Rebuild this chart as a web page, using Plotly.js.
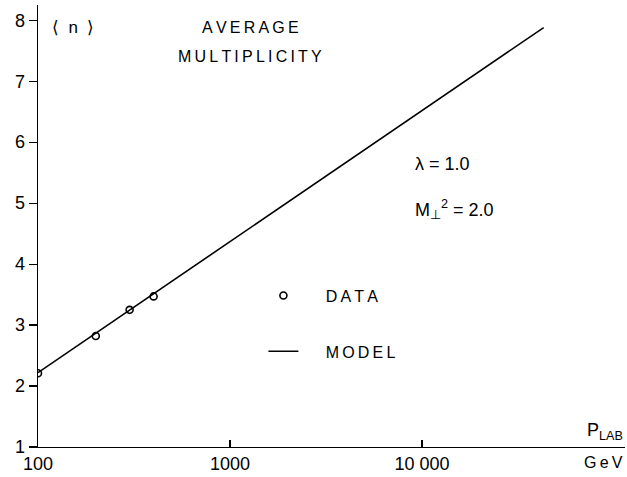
<!DOCTYPE html>
<html>
<head>
<meta charset="utf-8">
<script src="https://cdn.plot.ly/plotly-3.0.1.min.js"></script>
<style>html,body{margin:0;padding:0;background:#fff}#chart{width:627px;height:477px}</style>
</head>
<body>
<div id="chart"></div>
<script>
// Data
const dataP = [100, 200, 300, 400];
const dataN = [2.21, 2.82, 3.25, 3.47];
const modelP = [100, 1000, 10000, 43000];
const modelN = [2.22, 4.37, 6.52, 7.88];
const xTickVals = [100, 1000, 10000];
const xTickText = ['100', '1000', '10 000'];
const yTickVals = [1, 2, 3, 4, 5, 6, 7, 8];

const FONT = 'Liberation Sans, Arial, sans-serif';
const NB = '\u00a0';
const TS = '\u2009';
const spaced = s => s.split('').join(TS);

const traces = [
  {
    x: dataP, y: dataN, mode: 'markers', name: NB.repeat(5) + spaced('DATA'),
    marker: {symbol: 'circle-open', size: 7, color: '#000', line: {width: 1.6, color: '#000'}},
    legendgroup: 'a'
  },
  {
    x: modelP, y: modelN, mode: 'lines', name: NB.repeat(5) + spaced('MODEL'),
    line: {color: '#000', width: 1.6}, legendgroup: 'b'
  }
];

const layout = {
  width: 627, height: 477,
  margin: {l: 38, r: 2, t: 5, b: 30},
  paper_bgcolor: '#fff', plot_bgcolor: '#fff',
  font: {family: FONT, color: '#000', size: 16},
  showlegend: true,
  legend: {
    x: 0.384, y: 0.381, xanchor: 'left', yanchor: 'top',
    traceorder: 'grouped', tracegroupgap: 32,
    font: {size: 16, family: FONT}, bgcolor: 'rgba(0,0,0,0)'
  },
  xaxis: {
    type: 'log', range: [2, 5.057],
    tickvals: xTickVals, ticktext: xTickText,
    ticks: 'inside', ticklen: 7, tickwidth: 1.2, tickcolor: '#000',
    showline: true, linecolor: '#000', linewidth: 1.4,
    showgrid: false, zeroline: false,
    tickfont: {size: 18, family: FONT}
  },
  yaxis: {
    range: [1, 8.25],
    tickvals: yTickVals,
    ticks: 'outside', ticklen: 8, tickwidth: 1.2, tickcolor: '#000',
    showline: true, linecolor: '#000', linewidth: 1.4,
    showgrid: false, zeroline: false,
    tickfont: {size: 18, family: FONT}
  },
  annotations: [
    {xref: 'paper', yref: 'paper', x: 0.02, y: 0.948, xanchor: 'left', yanchor: 'middle',
     text: '⟨' + NB + NB + 'n' + NB + NB + '⟩', showarrow: false, font: {size: 17}},
    {xref: 'paper', yref: 'paper', x: 0.362, y: 0.948, xanchor: 'center', yanchor: 'middle',
     text: spaced('AVERAGE'), showarrow: false, font: {size: 16}},
    {xref: 'paper', yref: 'paper', x: 0.362, y: 0.884, xanchor: 'center', yanchor: 'middle',
     text: spaced('MULTIPLICITY'), showarrow: false, font: {size: 16}},
    {xref: 'paper', yref: 'paper', x: 0.639, y: 0.641, xanchor: 'left', yanchor: 'middle',
     text: 'λ = 1.0', showarrow: false, font: {size: 18}},
    {xref: 'paper', yref: 'paper', x: 0.639, y: 0.537, xanchor: 'left', yanchor: 'middle',
     text: 'M<sub>⊥</sub><sup>2</sup> = 2.0', showarrow: false, font: {size: 18}},
    {xref: 'paper', yref: 'paper', x: 1.0, y: 0.035, xanchor: 'right', yanchor: 'middle',
     text: 'P<sub>LAB</sub>', showarrow: false, font: {size: 18}},
    {xref: 'paper', yref: 'paper', x: 1.0, y: -0.036, xanchor: 'right', yanchor: 'middle',
     text: spaced('GeV'), showarrow: false, font: {size: 16}}
  ]
};

Plotly.newPlot('chart', traces, layout, {staticPlot: true, displayModeBar: false});
</script>
</body>
</html>
